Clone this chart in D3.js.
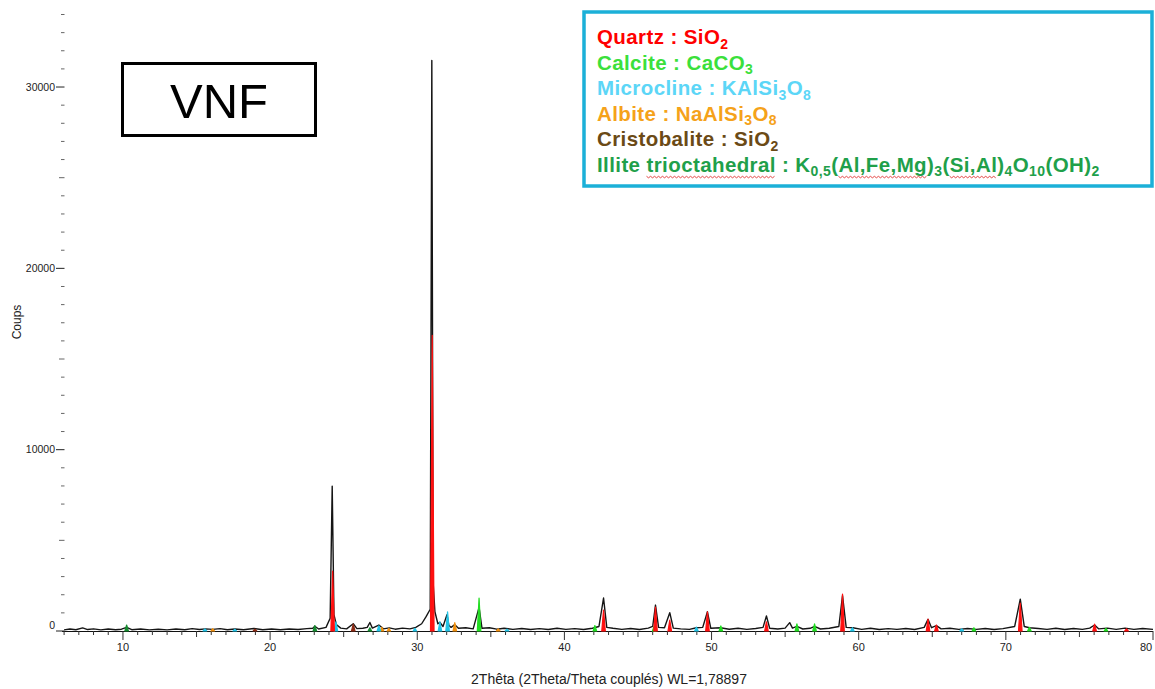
<!DOCTYPE html>
<html><head><meta charset="utf-8">
<script src="https://cdn.jsdelivr.net/npm/d3@7"></script>
<style>
body{margin:0;background:#fff}
svg{display:block}
text{font-family:"Liberation Sans",Arial,sans-serif}
</style>
</head><body>
<svg id="chart" width="1155" height="689"></svg>
<script>
// ---------- DATA ----------
// measured pattern: [2theta, counts]
const pattern = [
[6.0,60],[6.4,110],[6.8,70],[7.26,170],[7.6,80],[8.0,120],[8.5,60],[9.0,110],[9.5,70],[9.9,100],
[10.25,200],[10.6,70],[11.2,110],[11.8,60],[12.4,100],[13.0,60],[13.6,110],[14.2,70],[14.7,130],[15.2,80],
[15.6,120],[16.1,90],[16.6,130],[17.1,70],[17.6,110],[18.2,70],[18.9,140],[19.5,70],[20.1,110],[20.7,70],
[21.3,110],[21.9,80],[22.5,130],[22.9,150],[23.04,260],[23.3,110],[23.8,200],[24.08,700],[24.22,7990],[24.34,900],
[24.5,350],[24.8,160],[25.2,120],[25.65,400],[25.9,130],[26.3,150],[26.6,200],[26.78,470],[26.95,160],[27.39,330],
[27.7,120],[28.1,170],[28.5,100],[29.0,160],[29.5,120],[29.9,200],[30.3,400],[30.6,790],[30.88,1200],[30.99,31460],
[31.08,2650],[31.2,1060],[31.4,400],[31.54,480],[31.75,250],[32.02,900],[32.15,300],[32.3,200],[32.55,350],[32.8,150],
[33.3,180],[33.8,120],[34.2,1300],[34.4,150],[34.9,180],[35.4,100],[35.9,150],[36.5,90],[37.1,140],[37.7,80],
[38.3,130],[38.9,80],[39.5,150],[40.1,90],[40.7,130],[41.3,80],[41.9,150],[42.35,250],[42.66,1820],[42.88,200],
[43.3,150],[43.9,90],[44.5,140],[45.1,80],[45.7,160],[46.0,250],[46.19,1430],[46.4,200],[46.8,180],[47.16,1010],
[47.4,160],[47.9,120],[48.5,90],[48.97,180],[49.4,200],[49.72,1060],[49.95,150],[50.6,180],[51.2,100],[51.8,150],
[52.4,90],[53.0,140],[53.5,200],[53.73,830],[53.95,150],[54.5,110],[55.0,160],[55.31,460],[55.5,160],[55.8,250],
[56.2,110],[56.7,150],[57.0,250],[57.4,110],[58.0,150],[58.65,250],[58.9,1950],[59.15,200],[59.6,180],[60.2,90],
[60.8,150],[61.4,80],[62.0,130],[62.6,90],[63.2,140],[63.8,80],[64.45,200],[64.71,640],[64.95,180],[65.28,300],
[65.6,120],[66.2,150],[66.8,90],[67.4,140],[68.0,90],[68.6,140],[69.2,80],[69.8,130],[70.6,250],[70.98,1760],
[71.25,250],[71.6,180],[72.2,140],[72.8,90],[73.4,150],[74.0,80],[74.6,140],[75.2,90],[75.7,160],[76.03,330],
[76.3,120],[76.9,160],[77.5,90],[78.1,160],[78.7,90],[79.3,140],[80.0,90]
];
// phase reference peaks: [2theta, counts]
const quartzPeaks = [[24.25,3300],[31.02,16300],[42.66,1150],[46.19,1320],[47.16,600],[49.72,1060],[53.73,510],[58.9,2040],[64.71,660],[65.28,330],[70.98,1540],[76.03,380],[78.2,120]];
const calcitePeaks = [[34.2,1820],[42.07,300],[46.1,260],[50.63,280],[55.8,390],[57.0,390],[67.83,180],[71.6,200],[76.8,150]];
const illitePeaks = [[10.25,330],[23.04,300],[26.78,180]];
const microclinePeaks = [[15.57,120],[17.6,100],[24.47,500],[27.39,290],[29.84,150],[31.54,510],[32.06,1060],[36.1,100],[48.97,220],[59.57,180],[67.0,120]];
const albitePeaks = [[16.1,130],[27.6,200],[28.07,150],[32.55,460],[35.5,120]];
const cristobalitePeaks = [[18.97,100],[25.65,380]];

const xTickValues = [10,20,30,40,50,60,70,80];
const yTickValues = [0,10000,20000,30000];
const xTitle = "2Thêta (2Theta/Theta couplés) WL=1,78897";
const yTitle = "Coups";
const sampleName = "VNF";

// legend lines: [text, isSubscript, wavy]
const legendLines = [
  {color:"#FF0000", parts:[["Quartz : SiO",0],["2",1]]},
  {color:"#3BE03B", parts:[["Calcite : CaCO",0],["3",1]]},
  {color:"#5CD6F7", parts:[["Microcline : KAlSi",0],["3",1],["O",0],["8",1]]},
  {color:"#F5A21A", parts:[["Albite : NaAlSi",0],["3",1],["O",0],["8",1]]},
  {color:"#6B4A16", parts:[["Cristobalite : SiO",0],["2",1]]},
  {color:"#1FA04A", parts:[["Illite ",0],["trioctahedral",0,1],[" : K",0],["0,5",1],["(",0],["Al,Fe,Mg",0,1],[")",0],["3",1],["(",0],["Si,Al",0,1],[")",0],["4",1],["O",0],["10",1],["(OH)",0],["2",1]]}
];

// ---------- DRAW ----------
const svg = d3.select("#chart");
const x = d3.scaleLinear().domain([6,80]).range([64.1,1153]);
const y = d3.scaleLinear().domain([0,34000]).range([631,14.5]);

// y axis (ticks only)
const gy = svg.append("g");
const yMinor = d3.range(0,34001,1000);
gy.selectAll("line").data(yMinor).join("line")
  .attr("x1", d => d%10000===0 ? 56 : (d%5000===0 ? 59 : 61))
  .attr("x2", 64.5)
  .attr("y1", d=>y(d)).attr("y2", d=>y(d))
  .attr("stroke", d => d%10000===0 ? "#222" : "#666").attr("stroke-width", 1);
gy.selectAll("text").data(yTickValues).join("text")
  .attr("x", 55).attr("y", d => d===0 ? y(d)-6 : y(d))
  .attr("dy","0.35em").attr("text-anchor","end")
  .attr("font-size", 10.5).attr("fill","#222").text(d=>d);

// x axis
const gx = svg.append("g");
gx.append("line").attr("x1", x(6)-2).attr("x2", x(80)).attr("y1", y(0)+0.5).attr("y2", y(0)+0.5).attr("stroke","#111");
const xMinor = d3.range(6,81,1);
gx.selectAll("line.t").data(xMinor).join("line").attr("class","t")
  .attr("x1", d=>x(d)).attr("x2", d=>x(d))
  .attr("y1", y(0)).attr("y2", d => y(0) + (d%10===0 ? 9 : (d%5===0 ? 6 : 4)))
  .attr("stroke","#333").attr("stroke-width",1);
gx.selectAll("text").data(xTickValues).join("text")
  .attr("x", d=> d===80 ? x(d)-7 : x(d)).attr("y", 651).attr("text-anchor","middle")
  .attr("font-size", 11).attr("fill","#222").text(d=>d);

svg.append("text").attr("x", 609).attr("y", 684).attr("text-anchor","middle")
  .attr("font-size", 14).attr("fill","#222").text(xTitle);
svg.append("text").attr("transform","translate(21,322) rotate(-90)").attr("text-anchor","middle")
  .attr("font-size", 12).attr("fill","#222").text(yTitle);

// measured pattern
const line = d3.line().x(d=>x(d[0])).y(d=>y(d[1]));
svg.append("path").datum(pattern).attr("d", line)
  .attr("fill","none").attr("stroke","#151515").attr("stroke-width",1.4).attr("stroke-linejoin","round");

// phase peaks
const phases = [
  {peaks: cristobalitePeaks, color:"#8B2A14"},
  {peaks: albitePeaks, color:"#F0900F"},
  {peaks: microclinePeaks, color:"#22C4E6"},
  {peaks: illitePeaks, color:"#168C30"},
  {peaks: calcitePeaks, color:"#22DD22"},
  {peaks: quartzPeaks, color:"#FF1010"}
];
const halfWidth = 0.12;
const peakLine = d3.line().x(d=>x(d[0])).y(d=>y(d[1]));
phases.forEach(ph => {
  svg.append("g").selectAll("path").data(ph.peaks).join("path")
    .attr("d", d => peakLine([[d[0]-halfWidth,0],[d[0],d[1]],[d[0]+halfWidth,0]]) + "Z")
    .attr("fill", ph.color).attr("stroke", ph.color).attr("stroke-width", 1.2).attr("stroke-linejoin","round");
});

// sample box
svg.append("rect").attr("x",122.5).attr("y",63.5).attr("width",193).attr("height",72)
  .attr("fill","none").attr("stroke","#000").attr("stroke-width",3);
svg.append("text").attr("x",219).attr("y",100).attr("dy","0.36em").attr("text-anchor","middle")
  .attr("font-size",49).attr("fill","#000").text(sampleName);

// legend
svg.append("rect").attr("x",584).attr("y",12).attr("width",568).attr("height",174)
  .attr("fill","#fff").attr("stroke","#1BB0D8").attr("stroke-width",3.5);
const baselines = [44,69.5,95,120.5,146,171.5];
const wavyTargets = [];
legendLines.forEach((ln,i) => {
  const t = svg.append("text").attr("x",597).attr("y",baselines[i])
    .attr("font-size",20.5).attr("font-weight","bold").attr("letter-spacing",0.4).attr("fill",ln.color);
  let shifted = false;
  ln.parts.forEach(p => {
    const ts = t.append("tspan").text(p[0]);
    if (p[1]) { ts.attr("font-size",14); if(!shifted){ts.attr("dy",4.5); shifted=true;} }
    else if (shifted) { ts.attr("dy",-4.5); shifted=false; }
    if (p[2]) wavyTargets.push({node: ts.node(), base: baselines[i]});
  });
});
// red spell-check squiggles
wavyTargets.forEach(w => {
  const n = w.node;
  const x0 = n.getStartPositionOfChar(0).x;
  const x1 = n.getEndPositionOfChar(n.getNumberOfChars()-1).x;
  const pts = [];
  let k = 0;
  for (let px = x0; px <= x1; px += 2) { pts.push([px, w.base + 5 + (k%2 ? 1.3 : -0.2)]); k++; }
  svg.append("path").attr("d", d3.line()(pts)).attr("fill","none").attr("stroke","#E03030").attr("stroke-width",0.9);
});
</script>
</body></html>
